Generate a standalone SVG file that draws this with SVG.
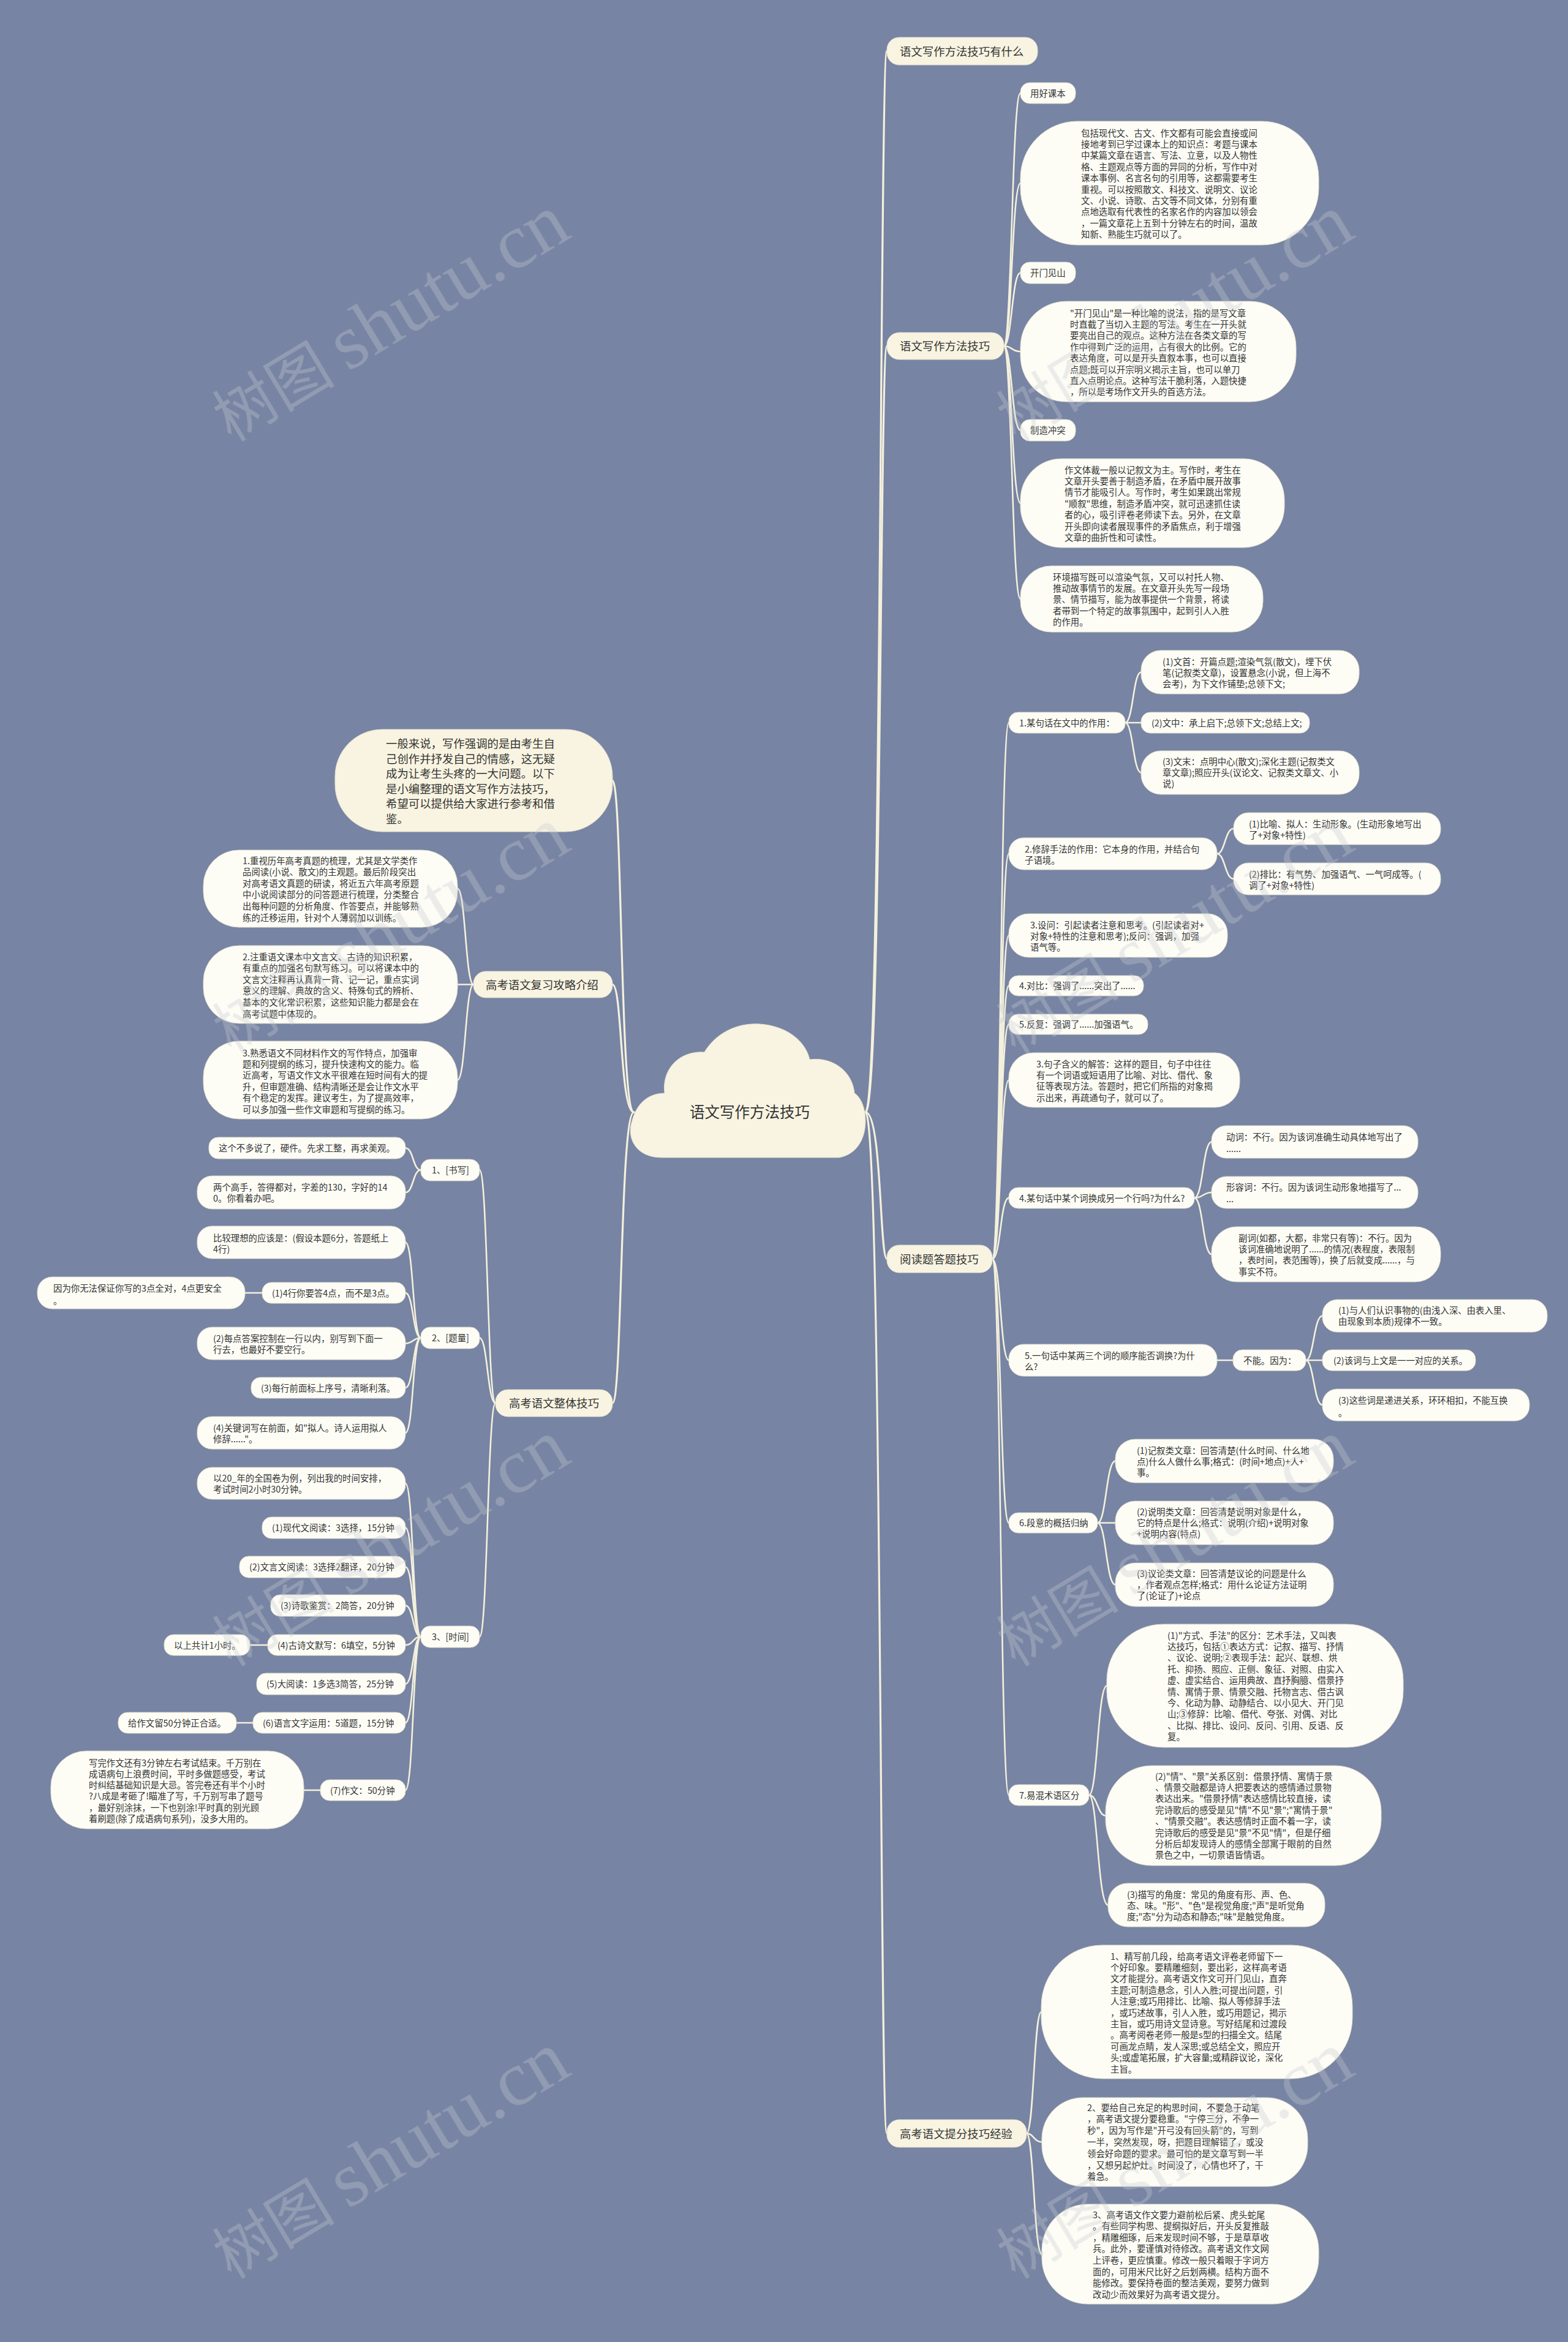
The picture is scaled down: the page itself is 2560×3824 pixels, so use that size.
<svg xmlns="http://www.w3.org/2000/svg" width="2560" height="3824" viewBox="0 0 2560 3824">
<style>
.n{fill:#FDFDF6;stroke:#E2DFCF;stroke-width:1}
.m{fill:#F8F4E1;stroke:#E2DFCF;stroke-width:1}
text{font-family:"Noto Sans CJK SC","Noto Sans",sans-serif;fill:#333333;font-size:14.4px}
.tm{font-size:18.4px}
.tc{font-size:24.5px}
.e{fill:none;stroke:#F4F0DC;stroke-width:2.6;stroke-linecap:round}
.e1{stroke-width:3.2}
.wm text{fill:#C9CBD2}
</style>
<rect x="0" y="0" width="2560" height="3824" fill="#7784A3"/>

<g id="connectors">
<path class="e e1" d="M1413 1816 C1440 1816 1436 83.5 1448 83.5"/>
<path class="e e1" d="M1413 1816 C1440 1816 1436 565 1448 565"/>
<path class="e e1" d="M1413 1816 C1440 1816 1436 2055.5 1448 2055.5"/>
<path class="e e1" d="M1413 1816 C1440 1816 1436 3483.5 1448 3483.5"/>
<path class="e" d="M1639 565 C1652 565 1652 152 1666 152"/>
<path class="e" d="M1639 565 C1652 565 1652 299 1666 299"/>
<path class="e" d="M1639 565 C1652 565 1652 445.5 1666 445.5"/>
<path class="e" d="M1639 565 C1652 565 1652 574 1666 574"/>
<path class="e" d="M1639 565 C1652 565 1652 702.5 1666 702.5"/>
<path class="e" d="M1639 565 C1652 565 1652 821.5 1666 821.5"/>
<path class="e" d="M1639 565 C1652 565 1652 978 1666 978"/>
<path class="e" d="M1620 2055.5 C1634 2055.5 1633 1180 1647 1180"/>
<path class="e" d="M1620 2055.5 C1634 2055.5 1633 1394 1647 1394"/>
<path class="e" d="M1620 2055.5 C1634 2055.5 1633 1527.5 1647 1527.5"/>
<path class="e" d="M1620 2055.5 C1634 2055.5 1633 1609.5 1647 1609.5"/>
<path class="e" d="M1620 2055.5 C1634 2055.5 1633 1672.5 1647 1672.5"/>
<path class="e" d="M1620 2055.5 C1634 2055.5 1633 1763.5 1647 1763.5"/>
<path class="e" d="M1620 2055.5 C1634 2055.5 1633 1956 1647 1956"/>
<path class="e" d="M1620 2055.5 C1634 2055.5 1633 2221 1647 2221"/>
<path class="e" d="M1620 2055.5 C1634 2055.5 1633 2486.5 1647 2486.5"/>
<path class="e" d="M1620 2055.5 C1634 2055.5 1633 2931 1647 2931"/>
<path class="e" d="M1837 1180 C1850 1180 1850 1097.5 1863 1097.5"/>
<path class="e" d="M1837 1180 L1863 1180"/>
<path class="e" d="M1837 1180 C1850 1180 1850 1261.5 1863 1261.5"/>
<path class="e" d="M1987 1394 C2000 1394 2000 1353 2014 1353"/>
<path class="e" d="M1987 1394 C2000 1394 2000 1435 2014 1435"/>
<path class="e" d="M1950 1956 C1964 1956 1964 1864.5 1978 1864.5"/>
<path class="e" d="M1950 1956 C1964 1956 1964 1947 1978 1947"/>
<path class="e" d="M1950 1956 C1964 1956 1964 2048 1978 2048"/>
<path class="e" d="M1987 2221 L2013 2221"/>
<path class="e" d="M2132 2221 C2145 2221 2145 2148.5 2159 2148.5"/>
<path class="e" d="M2132 2221 L2159 2221"/>
<path class="e" d="M2132 2221 C2145 2221 2145 2294 2159 2294"/>
<path class="e" d="M1792 2486.5 C1806 2486.5 1806 2385.5 1821 2385.5"/>
<path class="e" d="M1792 2486.5 L1821 2486.5"/>
<path class="e" d="M1792 2486.5 C1806 2486.5 1806 2587.5 1821 2587.5"/>
<path class="e" d="M1778 2931 C1792 2931 1792 2752.5 1807 2752.5"/>
<path class="e" d="M1778 2931 C1792 2931 1792 2964.5 1805 2964.5"/>
<path class="e" d="M1778 2931 C1792 2931 1792 3110.5 1809 3110.5"/>
<path class="e" d="M1676 3483.5 C1688 3483.5 1688 3285 1700 3285"/>
<path class="e" d="M1676 3483.5 C1688 3483.5 1688 3497.5 1701 3497.5"/>
<path class="e" d="M1676 3483.5 C1688 3483.5 1688 3680.5 1701 3680.5"/>
<path class="e e1" d="M1035 1816 C1012 1816 1016 1274.5 1000 1274.5"/>
<path class="e e1" d="M1035 1816 C1012 1816 1016 1607.5 1000 1607.5"/>
<path class="e e1" d="M1035 1816 C1012 1816 1016 2291 1000 2291"/>
<path class="e" d="M773 1607.5 C760 1607.5 760 1451 747 1451"/>
<path class="e" d="M773 1607.5 L747 1607.5"/>
<path class="e" d="M773 1607.5 C760 1607.5 760 1763.5 747 1763.5"/>
<path class="e" d="M809 2291 C796 2291 796 1910.5 783 1910.5"/>
<path class="e" d="M809 2291 C796 2291 796 2184.5 783 2184.5"/>
<path class="e" d="M809 2291 C796 2291 796 2672.5 783 2672.5"/>
<path class="e" d="M687 1910.5 C674 1910.5 675 1874.5 662 1874.5"/>
<path class="e" d="M687 1910.5 C674 1910.5 675 1947 662 1947"/>
<path class="e" d="M687 2184.5 C674 2184.5 675 2028.5 662 2028.5"/>
<path class="e" d="M687 2184.5 C674 2184.5 675 2111 662 2111"/>
<path class="e" d="M687 2184.5 C674 2184.5 675 2193.5 662 2193.5"/>
<path class="e" d="M687 2184.5 C674 2184.5 675 2266 662 2266"/>
<path class="e" d="M687 2184.5 C674 2184.5 675 2339.5 662 2339.5"/>
<path class="e" d="M428 2111 L400 2111"/>
<path class="e" d="M687 2672.5 C674 2672.5 675 2422 662 2422"/>
<path class="e" d="M687 2672.5 C674 2672.5 675 2494.5 662 2494.5"/>
<path class="e" d="M687 2672.5 C674 2672.5 675 2558.5 662 2558.5"/>
<path class="e" d="M687 2672.5 C674 2672.5 675 2621.5 662 2621.5"/>
<path class="e" d="M687 2672.5 C674 2672.5 675 2686 662 2686"/>
<path class="e" d="M687 2672.5 C674 2672.5 675 2749.5 662 2749.5"/>
<path class="e" d="M687 2672.5 C674 2672.5 675 2813 662 2813"/>
<path class="e" d="M687 2672.5 C674 2672.5 675 2923 662 2923"/>
<path class="e" d="M437 2686 L408 2686"/>
<path class="e" d="M413 2813 L386 2813"/>
<path class="e" d="M523 2923 L496 2923"/>
</g>

<g id="center">
<path class="m" d="M1080 1890 C1040 1890 1022 1860 1032 1830 C1040 1800 1060 1785 1085 1785 C1080 1745 1110 1715 1150 1718 C1170 1685 1205 1670 1240 1672 C1285 1675 1315 1700 1322 1730 C1360 1725 1392 1750 1395 1785 C1420 1800 1425 1880 1370 1890 Z"/>
<text class="tc" x="1224" y="1825" text-anchor="middle">语文写作方法技巧</text>
</g>

<g id="main1"><rect class="m" x="1448" y="61" width="246" height="45" rx="20"/><text class="tm" x="1469" y="90.5">语文写作方法技巧有什么</text></g>
<g id="main2"><rect class="m" x="1448" y="543" width="191" height="44" rx="20"/><text class="tm" x="1469" y="572">语文写作方法技巧</text></g>
<g id="main3"><rect class="m" x="1448" y="2033" width="172" height="45" rx="20"/><text class="tm" x="1469" y="2062.5">阅读题答题技巧</text></g>
<g id="main4"><rect class="m" x="1448" y="3461" width="228" height="45" rx="20"/><text class="tm" x="1469" y="3490.5">高考语文提分技巧经验</text></g>

<g id="a1"><rect class="n" x="1666" y="135" width="90" height="34" rx="15"/><text x="1682" y="157.5">用好课本</text></g>
<g id="a2"><rect class="n" x="1666" y="198" width="487" height="202" rx="93"/><text x="1765" y="222.5"><tspan x="1765">包括现代文、古文、作文都有可能会直接或间</tspan><tspan x="1765" dy="18.4">接地考到已学过课本上的知识点：考题与课本</tspan><tspan x="1765" dy="18.4">中某篇文章在语言、写法、立意，以及人物性</tspan><tspan x="1765" dy="18.4">格、主题观点等方面的异同的分析，写作中对</tspan><tspan x="1765" dy="18.4">课本事例、名言名句的引用等，这都需要考生</tspan><tspan x="1765" dy="18.4">重视。可以按照散文、科技文、说明文、议论</tspan><tspan x="1765" dy="18.4">文、小说、诗歌、古文等不同文体，分别有重</tspan><tspan x="1765" dy="18.4">点地选取有代表性的名家名作的内容加以领会</tspan><tspan x="1765" dy="18.4">，一篇文章花上五到十分钟左右的时间，温故</tspan><tspan x="1765" dy="18.4">知新、熟能生巧就可以了。</tspan></text></g>
<g id="a3"><rect class="n" x="1666" y="428" width="90" height="35" rx="15"/><text x="1682" y="451">开门见山</text></g>
<g id="a4"><rect class="n" x="1666" y="492" width="450" height="164" rx="75"/><text x="1747" y="516.5"><tspan x="1747">"开门见山"是一种比喻的说法，指的是写文章</tspan><tspan x="1747" dy="18.4">时直截了当切入主题的写法。考生在一开头就</tspan><tspan x="1747" dy="18.4">要亮出自己的观点。这种方法在各类文章的写</tspan><tspan x="1747" dy="18.4">作中得到广泛的运用，占有很大的比例。它的</tspan><tspan x="1747" dy="18.4">表达角度，可以是开头直叙本事，也可以直接</tspan><tspan x="1747" dy="18.4">点题;既可以开宗明义揭示主旨，也可以单刀</tspan><tspan x="1747" dy="18.4">直入点明论点。这种写法干脆利落，入题快捷</tspan><tspan x="1747" dy="18.4">，所以是考场作文开头的首选方法。</tspan></text></g>
<g id="a5"><rect class="n" x="1666" y="685" width="90" height="35" rx="15"/><text x="1682" y="708">制造冲突</text></g>
<g id="a6"><rect class="n" x="1666" y="749" width="431" height="145" rx="67"/><text x="1738" y="772.5"><tspan x="1738">作文体裁一般以记叙文为主。写作时，考生在</tspan><tspan x="1738" dy="18.4">文章开头要善于制造矛盾，在矛盾中展开故事</tspan><tspan x="1738" dy="18.4">情节才能吸引人。写作时，考生如果跳出常规</tspan><tspan x="1738" dy="18.4">"顺叙"思维，制造矛盾冲突，就可迅速抓住读</tspan><tspan x="1738" dy="18.4">者的心，吸引评卷老师读下去。另外，在文章</tspan><tspan x="1738" dy="18.4">开头即向读者展现事件的矛盾焦点，利于增强</tspan><tspan x="1738" dy="18.4">文章的曲折性和可读性。</tspan></text></g>
<g id="a7"><rect class="n" x="1666" y="924" width="396" height="108" rx="50"/><text x="1719" y="947.5"><tspan x="1719">环境描写既可以渲染气氛，又可以衬托人物、</tspan><tspan x="1719" dy="18.4">推动故事情节的发展。在文章开头先写一段场</tspan><tspan x="1719" dy="18.4">景、情节描写，能为故事提供一个背景，将读</tspan><tspan x="1719" dy="18.4">者带到一个特定的故事氛围中，起到引人入胜</tspan><tspan x="1719" dy="18.4">的作用。</tspan></text></g>

<g id="b1"><rect class="n" x="1647" y="1163" width="190" height="34" rx="15"/><text x="1664" y="1185.5">1.某句话在文中的作用：</text></g>
<g id="b1a"><rect class="n" x="1863" y="1062" width="356" height="71" rx="32"/><text x="1898" y="1085.5"><tspan x="1898">(1)文首：开篇点题;渲染气氛(散文)，埋下伏</tspan><tspan x="1898" dy="18.4">笔(记叙类文章)，设置悬念(小说，但上海不</tspan><tspan x="1898" dy="18.4">会考)，为下文作铺垫;总领下文;</tspan></text></g>
<g id="b1b"><rect class="n" x="1863" y="1163" width="275" height="34" rx="15"/><text x="1880" y="1185.5">(2)文中：承上启下;总领下文;总结上文;</text></g>
<g id="b1c"><rect class="n" x="1863" y="1226" width="356" height="71" rx="32"/><text x="1898" y="1248.5"><tspan x="1898">(3)文末：点明中心(散文);深化主题(记叙类文</tspan><tspan x="1898" dy="18.4">章文章);照应开头(议论文、记叙类文章文、小</tspan><tspan x="1898" dy="18.4">说)</tspan></text></g>
<g id="b2"><rect class="n" x="1647" y="1368" width="340" height="52" rx="24"/><text x="1673" y="1391.5"><tspan x="1673">2.修辞手法的作用：它本身的作用，并结合句</tspan><tspan x="1673" dy="18.4">子语境。</tspan></text></g>
<g id="b2a"><rect class="n" x="2014" y="1327" width="338" height="52" rx="24"/><text x="2039" y="1350.5"><tspan x="2039">(1)比喻、拟人：生动形象。(生动形象地写出</tspan><tspan x="2039" dy="18.4">了+对象+特性)</tspan></text></g>
<g id="b2b"><rect class="n" x="2014" y="1409" width="338" height="52" rx="24"/><text x="2039" y="1432.5"><tspan x="2039">(2)排比：有气势、加强语气、一气呵成等。(</tspan><tspan x="2039" dy="18.4">调了+对象+特性)</tspan></text></g>
<g id="b3"><rect class="n" x="1647" y="1492" width="357" height="71" rx="32"/><text x="1682" y="1515.5"><tspan x="1682">3.设问：引起读者注意和思考。(引起读者对+</tspan><tspan x="1682" dy="18.4">对象+特性的注意和思考);反问：强调，加强</tspan><tspan x="1682" dy="18.4">语气等。</tspan></text></g>
<g id="b4"><rect class="n" x="1647" y="1593" width="220" height="33" rx="15"/><text x="1664" y="1615">4.对比：强调了......突出了......</text></g>
<g id="b5"><rect class="n" x="1647" y="1656" width="227" height="33" rx="15"/><text x="1664" y="1678">5.反复：强调了......加强语气。</text></g>
<g id="b6"><rect class="n" x="1647" y="1719" width="377" height="89" rx="40"/><text x="1692" y="1742.5"><tspan x="1692">3.句子含义的解答：这样的题目，句子中往往</tspan><tspan x="1692" dy="18.4">有一个词语或短语用了比喻、对比、借代、象</tspan><tspan x="1692" dy="18.4">征等表现方法。答题时，把它们所指的对象揭</tspan><tspan x="1692" dy="18.4">示出来，再疏通句子，就可以了。</tspan></text></g>
<g id="b7"><rect class="n" x="1647" y="1939" width="303" height="34" rx="15"/><text x="1664" y="1961.5">4.某句话中某个词换成另一个行吗?为什么?</text></g>
<g id="b7a"><rect class="n" x="1978" y="1838" width="337" height="53" rx="24"/><text x="2002" y="1861.5"><tspan x="2002">动词：不行。因为该词准确生动具体地写出了</tspan><tspan x="2002" dy="19.5">......</tspan></text></g>
<g id="b7b"><rect class="n" x="1978" y="1921" width="337" height="52" rx="24"/><text x="2002" y="1943.5"><tspan x="2002">形容词：不行。因为该词生动形象地描写了...</tspan><tspan x="2002" dy="19.5">...</tspan></text></g>
<g id="b7c"><rect class="n" x="1978" y="2003" width="374" height="90" rx="41"/><text x="2022" y="2026.5"><tspan x="2022">副词(如都，大都，非常只有等)：不行。因为</tspan><tspan x="2022" dy="18.4">该词准确地说明了......的情况(表程度，表限制</tspan><tspan x="2022" dy="18.4">，表时间，表范围等)，换了后就变成......，与</tspan><tspan x="2022" dy="18.4">事实不符。</tspan></text></g>
<g id="b8"><rect class="n" x="1647" y="2195" width="340" height="52" rx="24"/><text x="1673" y="2218.5"><tspan x="1673">5.一句话中某两三个词的顺序能否调换?为什</tspan><tspan x="1673" dy="18.4">么?</tspan></text></g>
<g id="b8a"><rect class="n" x="2013" y="2204" width="119" height="34" rx="15"/><text x="2030" y="2226.5">不能。因为：</text></g>
<g id="b8a1"><rect class="n" x="2159" y="2122" width="367" height="53" rx="24"/><text x="2185" y="2144.5"><tspan x="2185">(1)与人们认识事物的(由浅入深、由表入里、</tspan><tspan x="2185" dy="18.4">由现象到本质)规律不一致。</tspan></text></g>
<g id="b8a2"><rect class="n" x="2159" y="2204" width="250" height="34" rx="15"/><text x="2177" y="2226.5">(2)该词与上文是一一对应的关系。</text></g>
<g id="b8a3"><rect class="n" x="2159" y="2268" width="338" height="52" rx="24"/><text x="2185" y="2291.5"><tspan x="2185">(3)这些词是递进关系，环环相扣，不能互换</tspan><tspan x="2185" dy="20">。</tspan></text></g>
<g id="b9"><rect class="n" x="1647" y="2470" width="145" height="33" rx="15"/><text x="1664" y="2492">6.段意的概括归纳</text></g>
<g id="b9a"><rect class="n" x="1821" y="2350" width="356" height="71" rx="32"/><text x="1856" y="2373.5"><tspan x="1856">(1)记叙类文章：回答清楚(什么时间、什么地</tspan><tspan x="1856" dy="18.4">点)什么人做什么事;格式：(时间+地点)+人+</tspan><tspan x="1856" dy="18.4">事。</tspan></text></g>
<g id="b9b"><rect class="n" x="1821" y="2451" width="356" height="71" rx="32"/><text x="1856" y="2473.5"><tspan x="1856">(2)说明类文章：回答清楚说明对象是什么，</tspan><tspan x="1856" dy="18.4">它的特点是什么;格式：说明(介绍)+说明对象</tspan><tspan x="1856" dy="18.4">+说明内容(特点)</tspan></text></g>
<g id="b9c"><rect class="n" x="1821" y="2552" width="356" height="71" rx="32"/><text x="1856" y="2574.5"><tspan x="1856">(3)议论类文章：回答清楚议论的问题是什么</tspan><tspan x="1856" dy="18.4">，作者观点怎样;格式：用什么论证方法证明</tspan><tspan x="1856" dy="18.4">了(论证了)+论点</tspan></text></g>
<g id="b10"><rect class="n" x="1647" y="2914" width="131" height="34" rx="15"/><text x="1664" y="2936.5">7.易混术语区分</text></g>
<g id="b10a"><rect class="n" x="1807" y="2652" width="484" height="201" rx="92"/><text x="1906" y="2675.5"><tspan x="1906">(1)"方式、手法"的区分：艺术手法，又叫表</tspan><tspan x="1906" dy="18.4">达技巧，包括①表达方式：记叙、描写、抒情</tspan><tspan x="1906" dy="18.4">、议论、说明;②表现手法：起兴、联想、烘</tspan><tspan x="1906" dy="18.4">托、抑扬、照应、正侧、象征、对照、由实入</tspan><tspan x="1906" dy="18.4">虚、虚实结合、运用典故、直抒胸臆、借景抒</tspan><tspan x="1906" dy="18.4">情、寓情于景、情景交融、托物言志、借古讽</tspan><tspan x="1906" dy="18.4">今、化动为静、动静结合、以小见大、开门见</tspan><tspan x="1906" dy="18.4">山;③修辞：比喻、借代、夸张、对偶、对比</tspan><tspan x="1906" dy="18.4">、比拟、排比、设问、反问、引用、反语、反</tspan><tspan x="1906" dy="18.4">复。</tspan></text></g>
<g id="b10b"><rect class="n" x="1805" y="2883" width="450" height="163" rx="75"/><text x="1886" y="2905.5"><tspan x="1886">(2)"情"、"景"关系区别：借景抒情、寓情于景</tspan><tspan x="1886" dy="18.4">、情景交融都是诗人把要表达的感情通过景物</tspan><tspan x="1886" dy="18.4">表达出来。"借景抒情"表达感情比较直接，读</tspan><tspan x="1886" dy="18.4">完诗歌后的感受是见"情"不见"景";"寓情于景"</tspan><tspan x="1886" dy="18.4">、"情景交融"。表达感情时正面不着一字，读</tspan><tspan x="1886" dy="18.4">完诗歌后的感受是见"景"不见"情"，但是仔细</tspan><tspan x="1886" dy="18.4">分析后却发现诗人的感情全部寓于眼前的自然</tspan><tspan x="1886" dy="18.4">景色之中，一切景语皆情语。</tspan></text></g>
<g id="b10c"><rect class="n" x="1809" y="3075" width="354" height="71" rx="32"/><text x="1840" y="3098.5"><tspan x="1840">(3)描写的角度：常见的角度有形、声、色、</tspan><tspan x="1840" dy="18.4">态、味。"形"、"色"是视觉角度;"声"是听觉角</tspan><tspan x="1840" dy="18.4">度;"态"分为动态和静态;"味"是触觉角度。</tspan></text></g>

<g id="c1"><rect class="n" x="1700" y="3176" width="508" height="218" rx="100"/><text x="1813" y="3199.5"><tspan x="1813">1、精写前几段，给高考语文评卷老师留下一</tspan><tspan x="1813" dy="18.4">个好印象。要精雕细刻，要出彩，这样高考语</tspan><tspan x="1813" dy="18.4">文才能提分。高考语文作文可开门见山，直奔</tspan><tspan x="1813" dy="18.4">主题;可制造悬念，引人入胜;可提出问题，引</tspan><tspan x="1813" dy="18.4">人注意;或巧用排比、比喻、拟人等修辞手法</tspan><tspan x="1813" dy="18.4">，或巧述故事，引人入胜，或巧用题记，揭示</tspan><tspan x="1813" dy="18.4">主旨，或巧用诗文显诗意。写好结尾和过渡段</tspan><tspan x="1813" dy="18.4">。高考阅卷老师一般是s型的扫描全文。结尾</tspan><tspan x="1813" dy="18.4">可画龙点睛，发人深思;或总结全文，照应开</tspan><tspan x="1813" dy="18.4">头;或虚笔拓展，扩大容量;或精辟议论，深化</tspan><tspan x="1813" dy="18.4">主旨。</tspan></text></g>
<g id="c2"><rect class="n" x="1701" y="3425" width="434" height="145" rx="67"/><text x="1775" y="3446.5"><tspan x="1775">2、要给自己充足的构思时间，不要急于动笔</tspan><tspan x="1775" dy="18.8">，高考语文提分要稳重。"宁停三分，不争一</tspan><tspan x="1775" dy="18.8">秒"，因为写作是"开弓没有回头箭"的，写到</tspan><tspan x="1775" dy="18.8">一半，突然发现，呀，把题目理解错了，或没</tspan><tspan x="1775" dy="18.8">领会好命题的要求。最可怕的是文章写到一半</tspan><tspan x="1775" dy="18.8">，又想另起炉灶。时间没了，心情也坏了，干</tspan><tspan x="1775" dy="18.8">着急。</tspan></text></g>
<g id="c3"><rect class="n" x="1701" y="3599" width="452" height="163" rx="75"/><text x="1784" y="3621.5"><tspan x="1784"> 3、高考语文作文要力避前松后紧、虎头蛇尾</tspan><tspan x="1784" dy="18.6">。有些同学构思、提纲拟好后，开头反复推敲</tspan><tspan x="1784" dy="18.6">，精雕细琢，后来发现时间不够，于是草草收</tspan><tspan x="1784" dy="18.6">兵。此外，要谨慎对待修改。高考语文作文网</tspan><tspan x="1784" dy="18.6">上评卷，更应慎重。修改一般只着眼于字词方</tspan><tspan x="1784" dy="18.6">面的，可用米尺比好之后划两横。结构方面不</tspan><tspan x="1784" dy="18.6">能修改。要保持卷面的整洁美观，要努力做到</tspan><tspan x="1784" dy="18.6">改动少而效果好为高考语文提分。</tspan></text></g>

<g id="intro"><rect class="m" x="547" y="1191" width="453" height="167" rx="77"/><text class="tm" x="630" y="1221"><tspan x="630">一般来说，写作强调的是由考生自</tspan><tspan x="630" dy="24.5">己创作并抒发自己的情感，这无疑</tspan><tspan x="630" dy="24.5">成为让考生头疼的一大问题。以下</tspan><tspan x="630" dy="24.5">是小编整理的语文写作方法技巧，</tspan><tspan x="630" dy="24.5">希望可以提供给大家进行参考和借</tspan><tspan x="630" dy="24.5">鉴。</tspan></text></g>

<g id="l1"><rect class="m" x="773" y="1586" width="227" height="43" rx="20"/><text class="tm" x="793" y="1614.5">高考语文复习攻略介绍</text></g>
<g id="l1a"><rect class="n" x="332" y="1388" width="415" height="126" rx="58"/><text x="396" y="1410.5"><tspan x="396">1.重视历年高考真题的梳理，尤其是文学类作</tspan><tspan x="396" dy="18.6">品阅读(小说、散文)的主观题。最后阶段突出</tspan><tspan x="396" dy="18.6">对高考语文真题的研读，将近五六年高考原题</tspan><tspan x="396" dy="18.6">中小说阅读部分的问答题进行梳理，分类整合</tspan><tspan x="396" dy="18.6">出每种问题的分析角度、作答要点，并能够熟</tspan><tspan x="396" dy="18.6">练的迁移运用，针对个人薄弱加以训练。</tspan></text></g>
<g id="l1b"><rect class="n" x="332" y="1544" width="415" height="127" rx="58"/><text x="396" y="1567.5"><tspan x="396">2.注重语文课本中文言文、古诗的知识积累，</tspan><tspan x="396" dy="18.6">有重点的加强名句默写练习。可以将课本中的</tspan><tspan x="396" dy="18.6">文言文注释再认真背一背、记一记，重点实词</tspan><tspan x="396" dy="18.6">意义的理解、典故的含义、特殊句式的辨析、</tspan><tspan x="396" dy="18.6">基本的文化常识积累，这些知识能力都是会在</tspan><tspan x="396" dy="18.6">高考试题中体现的。</tspan></text></g>
<g id="l1c"><rect class="n" x="332" y="1700" width="415" height="127" rx="58"/><text x="396" y="1724.5"><tspan x="396">3.熟悉语文不同材料作文的写作特点，加强审</tspan><tspan x="396" dy="18.4">题和列提纲的练习，提升快速构文的能力。临</tspan><tspan x="396" dy="18.4">近高考，写语文作文水平很难在短时间有大的提</tspan><tspan x="396" dy="18.4">升，但审题准确、结构清晰还是会让作文水平</tspan><tspan x="396" dy="18.4">有个稳定的发挥。建议考生，为了提高效率，</tspan><tspan x="396" dy="18.4">可以多加强一些作文审题和写提纲的练习。</tspan></text></g>

<g id="l2"><rect class="m" x="809" y="2269" width="191" height="44" rx="20"/><text class="tm" x="831" y="2298">高考语文整体技巧</text></g>
<g id="l2a"><rect class="n" x="687" y="1893" width="96" height="35" rx="15"/><text x="705" y="1916">1、[书写]</text></g>
<g id="l2a1"><rect class="n" x="341" y="1857" width="321" height="35" rx="15"/><text x="357" y="1880">这个不多说了，硬件。先求工整，再求美观。</text></g>
<g id="l2a2"><rect class="n" x="322" y="1920" width="340" height="54" rx="24"/><text x="348" y="1943.5"><tspan x="348">两个高手，答得都对，字差的130，字好的14</tspan><tspan x="348" dy="18.8">0。你看着办吧。</tspan></text></g>
<g id="l2b"><rect class="n" x="687" y="2167" width="96" height="35" rx="15"/><text x="705" y="2190">2、[题量]</text></g>
<g id="l2b1"><rect class="n" x="322" y="2002" width="340" height="53" rx="24"/><text x="348" y="2026.5"><tspan x="348">比较理想的应该是：(假设本题6分，答题纸上</tspan><tspan x="348" dy="18">4行)</tspan></text></g>
<g id="l2b2"><rect class="n" x="428" y="2094" width="234" height="34" rx="15"/><text x="444" y="2116.5">(1)4行你要答4点，而不是3点。</text></g>
<g id="l2b2a"><rect class="n" x="61" y="2085" width="339" height="52" rx="24"/><text x="87" y="2108.5"><tspan x="87">因为你无法保证你写的3点全对，4点更安全</tspan><tspan x="87" dy="20">。</tspan></text></g>
<g id="l2b3"><rect class="n" x="322" y="2167" width="340" height="53" rx="24"/><text x="348" y="2190.5"><tspan x="348">(2)每点答案控制在一行以内，别写到下面一</tspan><tspan x="348" dy="18.4">行去，也最好不要空行。</tspan></text></g>
<g id="l2b4"><rect class="n" x="410" y="2249" width="252" height="34" rx="15"/><text x="426" y="2271.5">(3)每行前面标上序号，清晰利落。</text></g>
<g id="l2b5"><rect class="n" x="322" y="2313" width="340" height="53" rx="24"/><text x="348" y="2336.5"><tspan x="348">(4)关键词写在前面，如"拟人。诗人运用拟人</tspan><tspan x="348" dy="18.4">修辞......"。</tspan></text></g>
<g id="l2c"><rect class="n" x="687" y="2655" width="96" height="35" rx="15"/><text x="705" y="2678">3、[时间]</text></g>
<g id="l2c1"><rect class="n" x="322" y="2396" width="340" height="52" rx="24"/><text x="348" y="2418.5"><tspan x="348">以20_年的全国卷为例，列出我的时间安排，</tspan><tspan x="348" dy="18.4">考试时间2小时30分钟。</tspan></text></g>
<g id="l2c2"><rect class="n" x="428" y="2477" width="234" height="35" rx="15"/><text x="444" y="2500">(1)现代文阅读：3选择，15分钟</text></g>
<g id="l2c3"><rect class="n" x="391" y="2541" width="271" height="35" rx="15"/><text x="407" y="2564">(2)文言文阅读：3选择2翻译，20分钟</text></g>
<g id="l2c4"><rect class="n" x="442" y="2604" width="220" height="35" rx="15"/><text x="458" y="2627">(3)诗歌鉴赏：2简答，20分钟</text></g>
<g id="l2c5"><rect class="n" x="437" y="2669" width="225" height="34" rx="15"/><text x="453" y="2691.5">(4)古诗文默写：6填空，5分钟</text></g>
<g id="l2c5a"><rect class="n" x="268" y="2669" width="140" height="34" rx="15"/><text x="284" y="2691.5">以上共计1小时。</text></g>
<g id="l2c6"><rect class="n" x="419" y="2732" width="243" height="35" rx="15"/><text x="435" y="2755">(5)大阅读：1多选3简答，25分钟</text></g>
<g id="l2c7"><rect class="n" x="413" y="2796" width="249" height="34" rx="15"/><text x="429" y="2818.5">(6)语言文字运用：5道题，15分钟</text></g>
<g id="l2c7a"><rect class="n" x="193" y="2796" width="193" height="34" rx="15"/><text x="209" y="2818.5">给作文留50分钟正合适。</text></g>
<g id="l2c8"><rect class="n" x="523" y="2906" width="139" height="34" rx="15"/><text x="539" y="2928.5">(7)作文：50分钟</text></g>
<g id="l2c8a"><rect class="n" x="83" y="2859" width="413" height="127" rx="58"/><text x="145" y="2883.5"><tspan x="145">写完作文还有3分钟左右考试结束。千万别在</tspan><tspan x="145" dy="18.3">成语病句上浪费时间，平时多做题感受，考试</tspan><tspan x="145" dy="18.3">时纠结基础知识是大忌。答完卷还有半个小时</tspan><tspan x="145" dy="18.3">?八成是考砸了!瞄准了写，千万别写串了题号</tspan><tspan x="145" dy="18.3">，最好别涂抹，一下也别涂!平时真的别光顾</tspan><tspan x="145" dy="18.3">着刷题(除了成语病句系列)，没多大用的。</tspan></text></g>

<g id="watermarks" class="wm" opacity="0.33">
<text transform="translate(639,524) rotate(-31)" text-anchor="middle" y="35"><tspan font-size="100">树图 </tspan><tspan font-family="Liberation Serif, serif" font-size="128">shutu.cn</tspan></text>
<text transform="translate(1919,524) rotate(-31)" text-anchor="middle" y="35"><tspan font-size="100">树图 </tspan><tspan font-family="Liberation Serif, serif" font-size="128">shutu.cn</tspan></text>
<text transform="translate(639,1524) rotate(-31)" text-anchor="middle" y="35"><tspan font-size="100">树图 </tspan><tspan font-family="Liberation Serif, serif" font-size="128">shutu.cn</tspan></text>
<text transform="translate(1919,1524) rotate(-31)" text-anchor="middle" y="35"><tspan font-size="100">树图 </tspan><tspan font-family="Liberation Serif, serif" font-size="128">shutu.cn</tspan></text>
<text transform="translate(639,2524) rotate(-31)" text-anchor="middle" y="35"><tspan font-size="100">树图 </tspan><tspan font-family="Liberation Serif, serif" font-size="128">shutu.cn</tspan></text>
<text transform="translate(1919,2524) rotate(-31)" text-anchor="middle" y="35"><tspan font-size="100">树图 </tspan><tspan font-family="Liberation Serif, serif" font-size="128">shutu.cn</tspan></text>
<text transform="translate(639,3524) rotate(-31)" text-anchor="middle" y="35"><tspan font-size="100">树图 </tspan><tspan font-family="Liberation Serif, serif" font-size="128">shutu.cn</tspan></text>
<text transform="translate(1919,3524) rotate(-31)" text-anchor="middle" y="35"><tspan font-size="100">树图 </tspan><tspan font-family="Liberation Serif, serif" font-size="128">shutu.cn</tspan></text>
</g>
</svg>
